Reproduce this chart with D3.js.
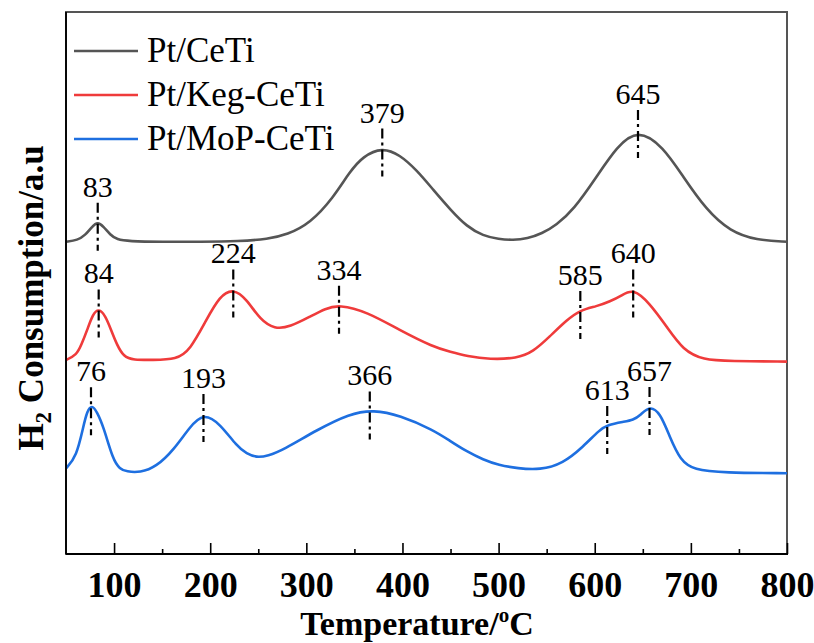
<!DOCTYPE html>
<html>
<head>
<meta charset="utf-8">
<script src="https://cdn.jsdelivr.net/npm/d3@7"></script>
<style>
  html, body { margin: 0; padding: 0; background: #fff; }
  svg { display: block; }
  text { font-family: "Liberation Serif", "Times New Roman", serif; }
</style>
</head>
<body>
<svg id="chart" width="814" height="643"></svg>
<script>
// ---------------- DATA ----------------
const seriesNames = ["Pt/CeTi", "Pt/Keg-CeTi", "Pt/MoP-CeTi"];
const seriesColors = ["#555555", "#ef3b3b", "#1e6fe0"];

// Pt/CeTi
const ceTiT = [50, 62, 70, 77, 83, 89, 96, 103, 115, 150, 190, 230, 260, 280, 304, 328, 345, 359, 379, 397, 415, 432, 450, 467, 484, 500, 515, 530, 545, 560, 578, 602, 623, 645, 671, 692, 716, 741, 768, 800];
const ceTiV = [57.6, 57.9, 58.8, 60.4, 61.3, 60.4, 58.9, 58.0, 57.7, 57.6, 57.6, 57.7, 58.1, 58.9, 61.0, 65.7, 70.5, 73.4, 75.0, 73.7, 70.8, 67.2, 63.5, 60.4, 58.7, 58.1, 57.9, 58.2, 59.1, 60.7, 63.5, 69.6, 75.2, 78.4, 75.2, 69.6, 63.5, 59.5, 57.9, 57.6];

// Pt/Keg-CeTi
const kegT = [50, 61, 66, 72, 78, 84, 91, 97, 103, 110, 120, 140, 165, 179, 196, 210, 224, 238, 252, 267, 283, 304, 320, 334, 363, 397, 432, 450, 467, 491, 519, 536, 553, 571, 585, 602, 616, 628, 640, 657, 675, 692, 713, 740, 800];
const kegV = [35.8, 36.7, 38.6, 41.3, 44.3, 45.3, 44.0, 41.3, 38.6, 36.4, 35.8, 35.8, 35.9, 37.6, 43.2, 47.6, 49.0, 47.0, 43.2, 41.5, 41.9, 43.8, 45.3, 46.0, 44.7, 41.3, 38.2, 37.3, 36.5, 35.9, 36.1, 37.3, 40.1, 43.2, 45.0, 45.7, 46.6, 47.7, 49.0, 46.3, 41.9, 37.6, 35.8, 35.6, 35.5];

// Pt/MoP-CeTi
const mopT = [50, 61, 68, 72, 77, 82, 89, 99, 106, 113, 127, 144, 162, 179, 193, 210, 228, 238, 248, 260, 276, 311, 345, 370, 397, 432, 450, 467, 484, 500, 520, 543, 567, 588, 605, 613, 630, 640, 648, 657, 668, 678, 689, 703, 734, 800];
const mopV = [15.8, 18.0, 23.5, 26.4, 27.5, 26.3, 23.5, 17.3, 15.7, 15.2, 15.0, 16.1, 19.2, 23.5, 26.0, 24.1, 19.8, 18.5, 17.8, 18.1, 19.2, 22.9, 25.9, 26.6, 25.6, 22.9, 20.8, 18.9, 17.4, 16.4, 15.8, 15.5, 16.7, 19.8, 22.9, 23.8, 24.4, 24.7, 25.7, 27.3, 26.1, 21.6, 17.3, 15.5, 15.0, 14.9];

// Peak annotations
const peakSeries = [0, 0, 0, 1, 1, 1, 1, 1, 2, 2, 2, 2, 2];
const peakT      = [83, 379, 645, 84, 224, 334, 585, 640, 76, 193, 366, 613, 657];
const peakLabels = ["83", "379", "645", "84", "224", "334", "585", "640", "76", "193", "366", "613", "657"];

// Axis ticks
const xMajorTicks = [100, 200, 300, 400, 500, 600, 700, 800];
const xMinorTicks = [150, 250, 350, 450, 550, 650, 750];
const xTitle = "Temperature/";
const yTitle = "Consumption/a.u";

// ---------------- LAYOUT ----------------
const FONT = "'Liberation Serif', 'Times New Roman', serif";
const L = 66, R = 787, T = 12, B = 554;
const svg = d3.select("#chart");

const x = d3.scaleLinear().domain([50, 800]).range([L, R]);
const y = d3.scaleLinear().domain([0, 100]).range([B, T]);

const allT = [ceTiT, kegT, mopT];
const allV = [ceTiV, kegV, mopV];
const series = allT.map((ts, i) => ts.map((t, j) => ({ t, v: allV[i][j] })));

// frame (top/right gray)
svg.append("rect")
  .attr("x", L).attr("y", T).attr("width", R - L).attr("height", B - T)
  .attr("fill", "none").attr("stroke", "#555").attr("stroke-width", 2);

// curves
const line = d3.line()
  .x(d => x(d.t)).y(d => y(d.v))
  .curve(d3.curveBasis);

series.forEach((s, i) => {
  svg.append("path")
    .datum(s)
    .attr("d", line)
    .attr("fill", "none")
    .attr("stroke", seriesColors[i])
    .attr("stroke-width", 2.6)
    .attr("stroke-linejoin", "round");
});

// peak annotations
function valueAt(i, t) {
  const ts = allT[i], vs = allV[i];
  const k = d3.bisectLeft(ts, t);
  if (k <= 0) return vs[0];
  if (k >= ts.length) return vs[vs.length - 1];
  const t0 = ts[k - 1], t1 = ts[k];
  const f = (t - t0) / (t1 - t0);
  return vs[k - 1] + f * (vs[k] - vs[k - 1]);
}

peakT.forEach((t, k) => {
  const px = x(t);
  const py = y(valueAt(peakSeries[k], t));
  svg.append("line")
    .attr("x1", px).attr("x2", px)
    .attr("y1", py - 19).attr("y2", py + 29)
    .attr("stroke", "#000").attr("stroke-width", 2.2)
    .attr("stroke-dasharray", "10,4,3,4");
  svg.append("text")
    .attr("x", px).attr("y", py - 25)
    .attr("text-anchor", "middle")
    .attr("font-family", FONT)
    .attr("font-size", 30)
    .attr("fill", "#000")
    .text(peakLabels[k]);
});

// x axis ticks (inside)
const majorAxis = d3.axisBottom(x).tickValues(xMajorTicks).tickSize(-11).tickPadding(17);
const gMaj = svg.append("g").attr("transform", `translate(0,${B})`).call(majorAxis);
gMaj.select(".domain").remove();
gMaj.selectAll(".tick line").attr("stroke", "#000").attr("stroke-width", 1.6);
gMaj.selectAll(".tick text")
  .attr("font-family", FONT)
  .attr("font-size", 36).attr("font-weight", "bold").attr("fill", "#000");

const minorAxis = d3.axisBottom(x).tickValues(xMinorTicks).tickSize(-5).tickFormat("");
const gMin = svg.append("g").attr("transform", `translate(0,${B})`).call(minorAxis);
gMin.select(".domain").remove();
gMin.selectAll(".tick line").attr("stroke", "#000").attr("stroke-width", 1.6);

// left & bottom axis lines (black)
svg.append("line").attr("x1", L).attr("x2", L).attr("y1", T).attr("y2", B)
  .attr("stroke", "#000").attr("stroke-width", 1.8);
svg.append("line").attr("x1", L).attr("x2", R + 1).attr("y1", B).attr("y2", B)
  .attr("stroke", "#000").attr("stroke-width", 2);

// x title
const xt = svg.append("text")
  .attr("x", 417).attr("y", 635)
  .attr("text-anchor", "middle")
  .attr("font-family", FONT)
  .attr("font-size", 34).attr("font-weight", "bold").attr("fill", "#000");
xt.append("tspan").text(xTitle);
xt.append("tspan").attr("font-size", 21).attr("dy", -13).text("o");
xt.append("tspan").attr("dy", 13).text("C");

// y title
const yt = svg.append("text")
  .attr("transform", "translate(43,298) rotate(-90)")
  .attr("text-anchor", "middle")
  .attr("font-family", FONT)
  .attr("font-size", 35).attr("font-weight", "bold").attr("fill", "#000");
yt.append("tspan").text("H");
yt.append("tspan").attr("font-size", 23).attr("dy", 8).text("2");
yt.append("tspan").attr("dy", -8).text(" " + yTitle);

// legend
seriesNames.forEach((name, i) => {
  const ly = 51 + i * 44;
  svg.append("line")
    .attr("x1", 74).attr("x2", 138).attr("y1", ly).attr("y2", ly)
    .attr("stroke", seriesColors[i]).attr("stroke-width", 2.6);
  svg.append("text")
    .attr("x", 147).attr("y", ly + 11)
    .attr("font-family", FONT)
    .attr("font-size", 35).attr("fill", "#000")
    .text(name);
});
</script>
</body>
</html>
